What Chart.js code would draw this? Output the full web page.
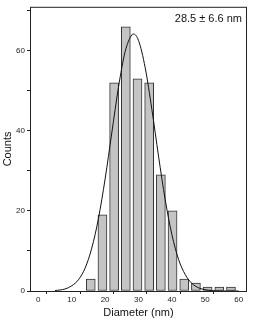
<!DOCTYPE html>
<html>
<head>
<meta charset="utf-8">
<script src="https://cdn.jsdelivr.net/npm/chart.js@4"></script>
<style>
  html, body { margin: 0; padding: 0; background: #fff; }
  #wrap { width: 253px; height: 320px; }
</style>
</head>
<body>
<div id="wrap"><canvas id="sizeChart"></canvas></div>
<script>
// histogram bins (nm) and counts
const binCenters = [15.7, 19.2, 22.7, 26.2, 29.7, 33.2, 36.7, 40.2, 43.7, 47.2, 50.7, 54.2, 57.7];
const counts = [3, 19, 52, 66, 53, 52, 29, 20, 3, 2, 1, 1, 1];

// gaussian fit curve
const fitX = [5, 8, 10, 12, 14, 16, 18, 20, 22, 24, 26, 28, 28.5, 30, 32, 34, 36, 38, 40, 42, 44, 46, 48, 50, 52, 55, 60];
const fitY = [0.1, 0.5, 1.3, 2.8, 5.7, 10.7, 18.1, 28.0, 39.5, 50.9, 59.8, 64.0, 64.2, 62.6, 55.8, 45.4, 33.7, 22.8, 14.1, 7.9, 4.1, 1.9, 0.8, 0.3, 0.1, 0, 0];

const xTickLabels = [0, 10, 20, 30, 40, 50, 60];
const yTickLabels = [0, 20, 40, 60];
const fitLabel = '28.5 ± 6.6 nm';

const FONT = "'Liberation Sans', Arial, sans-serif";

const frameAndLabel = {
  id: 'frameAndLabel',
  afterDatasetsDraw(chart) {
    const { ctx, chartArea: a } = chart;
    ctx.save();
    ctx.strokeStyle = '#222';
    ctx.lineWidth = 1;
    ctx.strokeRect(a.left + 0.5, a.top + 0.5, a.right - a.left - 1, a.bottom - a.top);
    ctx.fillStyle = '#111';
    ctx.font = '11px ' + FONT;
    ctx.textAlign = 'right';
    ctx.textBaseline = 'middle';
    ctx.fillText(fitLabel, a.right - 5, a.top + 12);
    ctx.restore();
  }
};

const ctx = document.getElementById('sizeChart').getContext('2d');
new Chart(ctx, {
  data: {
    datasets: [
      {
        type: 'line',
        data: fitX.map((x, i) => ({ x: x, y: fitY[i] })),
        borderColor: '#111',
        borderWidth: 1,
        pointRadius: 0,
        cubicInterpolationMode: 'monotone',
        fill: false,
        order: 0
      },
      {
        type: 'bar',
        data: binCenters.map((x, i) => ({ x: x, y: counts[i] })),
        backgroundColor: '#c4c4c4',
        borderColor: '#333',
        borderWidth: 1,
        borderSkipped: false,
        barThickness: 9,
        grouped: false,
        order: 1
      }
    ]
  },
  options: {
    responsive: true,
    maintainAspectRatio: false,
    animation: false,
    devicePixelRatio: 1,
    layout: { padding: { left: 0, right: 6, top: 2, bottom: 0 } },
    plugins: {
      legend: { display: false },
      tooltip: { enabled: false }
    },
    scales: {
      x: {
        type: 'linear',
        min: 0,
        max: 60,
        border: { display: false },
        grid: {
          drawOnChartArea: false,
          drawTicks: true,
          tickLength: 3,
          color: c => (c.tick && c.tick.value % 10 !== 0) ? '#222' : 'rgba(0,0,0,0)'
        },
        ticks: {
          stepSize: 5,
          autoSkip: false,
          maxRotation: 0,
          padding: 1,
          color: '#222',
          font: { family: FONT, size: 8 },
          callback: v => xTickLabels.includes(v) ? String(v) : ''
        },
        title: {
          display: true,
          text: 'Diameter (nm)',
          color: '#111',
          font: { family: FONT, size: 11 },
          padding: { top: 0, bottom: 0 }
        },
        afterFit: s => { s.height = 29; }
      },
      y: {
        min: 0,
        max: 71,
        border: { display: false },
        afterBuildTicks: s => {
          s.ticks = [0, 10, 20, 30, 40, 50, 60, 70].map(v => ({ value: v }));
        },
        grid: {
          drawOnChartArea: false,
          drawTicks: true,
          tickLength: 3,
          color: '#222'
        },
        ticks: {
          padding: 2,
          color: '#222',
          font: { family: FONT, size: 8 },
          callback: v => yTickLabels.includes(v) ? String(v) : ''
        },
        title: {
          display: true,
          text: 'Counts',
          color: '#111',
          font: { family: FONT, size: 11 },
          padding: { top: 1, bottom: 0 }
        },
        afterFit: s => { s.width = 30; }
      }
    }
  },
  plugins: [frameAndLabel]
});
</script>
</body>
</html>
